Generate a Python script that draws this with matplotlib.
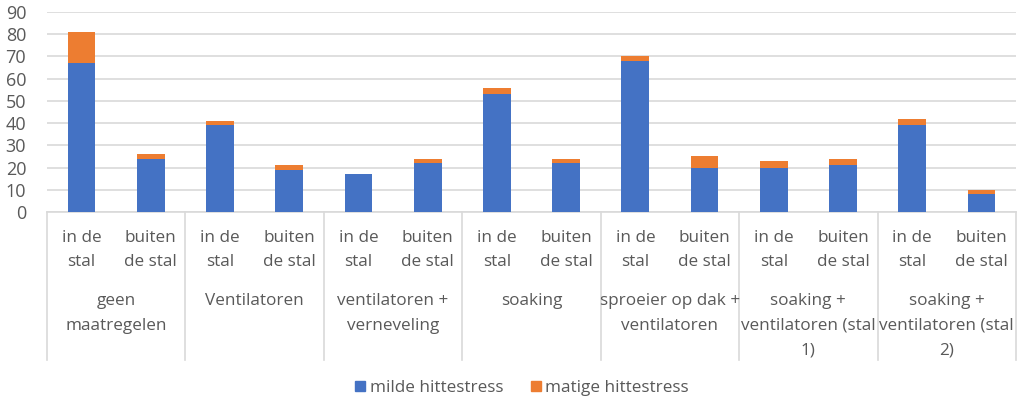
import matplotlib
matplotlib.use("Agg")
import matplotlib.pyplot as plt
from matplotlib.patches import Patch
import numpy as np

groups = ["geen\nmaatregelen", "Ventilatoren", "ventilatoren +\nverneveling",
          "soaking", "sproeier op dak +\nventilatoren",
          "soaking +\nventilatoren (stal\n1)", "soaking +\nventilatoren (stal\n2)"]
sub_labels = ["in de\nstal", "buiten\nde stal"]
milde = [67, 24, 39, 19, 17, 22, 53, 22, 68, 20, 20, 21, 39, 8]
matige = [14, 2, 2, 2, 0, 2, 3, 2, 2, 5, 3, 3, 3, 2]

blue = "#4472C4"
orange = "#ED7D31"
grey = "#595959"
grid = "#D9D9D9"

plt.rcParams['font.family'] = ['Open Sans', 'DejaVu Sans']

fig = plt.figure(figsize=(10.24, 4.08), dpi=100)
ax = fig.add_axes([47/1024, 196/408, 969/1024, 200/408])

x = np.arange(len(milde))
ax.bar(x, milde, width=0.4, color=blue, zorder=3)
ax.bar(x, matige, width=0.4, bottom=milde, color=orange, zorder=3)

ax.set_xlim(-0.5, len(milde) - 0.5)
ax.set_ylim(0, 90)
ax.set_yticks(range(0, 91, 10))
ax.yaxis.grid(True, color=grid, linewidth=1.2, zorder=0)
ax.set_axisbelow(True)
for s in ["top", "right", "left"]:
    ax.spines[s].set_visible(False)
ax.spines["bottom"].set_color(grid)
ax.spines["bottom"].set_linewidth(1.2)
ax.tick_params(axis="y", length=0, pad=15, labelsize=13, labelcolor=grey)
ax.set_xticks([])

trans = ax.get_xaxis_transform()
for i in x:
    ax.text(i, -0.19, sub_labels[i % 2], transform=trans, ha="center", va="center",
            fontsize=12.3, color=grey, linespacing=1.62)
for g, name in enumerate(groups):
    ax.text(2 * g + 0.5, -0.405, name, transform=trans, ha="center", va="top",
            fontsize=12.3, color=grey, linespacing=1.72)
for b in np.arange(-0.5, len(milde), 2):
    ax.plot([b, b], [0, -0.74], transform=trans, color=grid, linewidth=1.2, clip_on=False)

handles = [Patch(color=blue, label="milde hittestress"),
           Patch(color=orange, label="matige hittestress")]
leg = fig.legend(handles=handles, loc="center", bbox_to_anchor=(522/1024, 1 - 388/408), ncol=2,
                 frameon=False, fontsize=12.3, handlelength=0.6, handleheight=0.6,
                 handletextpad=0.25, columnspacing=1.6)
for t in leg.get_texts():
    t.set_color(grey)

fig.savefig("out.png", dpi=100)
